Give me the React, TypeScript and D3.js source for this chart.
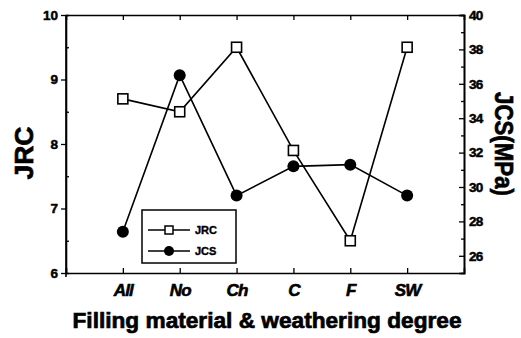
import React, { useEffect, useRef } from 'react';
import * as d3 from 'd3';

const categories = ['All', 'No', 'Ch', 'C', 'F', 'SW'];
const jrcValues = [8.7, 8.5, 9.5, 7.9, 6.5, 9.5];
const jcsValues = [27.4, 36.5, 29.5, 31.2, 31.3, 29.5];
const jrcTicks = [6, 7, 8, 9, 10];
const jcsTicks = [26, 28, 30, 32, 34, 36, 38, 40];

const App = () => {
    const ref = useRef<SVGSVGElement>(null);

    useEffect(() => {
        const width = 521;
        const height = 338;
        const left = 66;
        const right = 464;
        const top = 15;
        const bottom = 273;
        const font = '"Liberation Sans", Arial, sans-serif';

        const svg = d3.select(ref.current);
        svg.selectAll('*').remove();
        svg.attr('width', width).attr('height', height);

        const x = d3.scaleLinear().domain([-1, 6]).range([left, right]);
        const y = d3.scaleLinear().domain([6, 10]).range([bottom, top]);
        const y2 = d3.scaleLinear().domain([25, 40]).range([bottom, top]);

        // heavy scanned-looking text
        const heavy = (sel: any, size: number, stroke = 0.6) =>
            sel.attr('fill', '#000')
                .attr('stroke', '#000')
                .attr('stroke-width', stroke)
                .style('font-family', font)
                .style('font-weight', 'bold')
                .style('font-size', size + 'px');

        // frame axes
        const axisLeft = d3.axisLeft(y).tickValues(jrcTicks).tickSize(5).tickFormat(d3.format('d'));
        const gl = svg.append('g').attr('transform', `translate(${left},0)`).call(axisLeft);
        const axisLeftMinor = d3.axisRight(y).tickValues([6.5, 7.5, 8.5, 9.5]).tickSize(3).tickFormat(() => '');
        const glm = svg.append('g').attr('transform', `translate(${left},0)`).call(axisLeftMinor);

        const axisRight = d3.axisLeft(y2).tickValues(jcsTicks).tickSize(5).tickFormat(d3.format('d'));
        const gr = svg.append('g').attr('transform', `translate(${right},0)`).call(axisRight);
        gr.selectAll('text').attr('x', 5).attr('text-anchor', 'start');
        const axisRightMinor = d3.axisLeft(y2).tickValues([27, 29, 31, 33, 35, 37, 39]).tickSize(3).tickFormat(() => '');
        const grm = svg.append('g').attr('transform', `translate(${right},0)`).call(axisRightMinor);

        const axisBottom = d3.axisTop(x).tickValues(d3.range(categories.length)).tickSize(5)
            .tickFormat((d) => categories[d as number]);
        const gb = svg.append('g').attr('transform', `translate(0,${bottom})`).call(axisBottom);
        gb.selectAll('text').attr('y', 23).attr('dy', 0);
        const axisTop = d3.axisBottom(x).tickValues(d3.range(categories.length)).tickSize(5).tickFormat(() => '');
        const gt = svg.append('g').attr('transform', `translate(0,${top})`).call(axisTop);

        [gl, glm, gr, grm, gb, gt].forEach((g) => {
            g.select('.domain').attr('stroke', '#000').attr('stroke-width', 1.6);
            g.selectAll('.tick line').attr('stroke', '#000').attr('stroke-width', 1.3);
        });
        heavy(gl.selectAll('text'), 13.5, 0.5);
        heavy(gr.selectAll('text'), 13.5, 0.5).attr('letter-spacing', -0.8);
        heavy(gb.selectAll('text'), 17, 0.6).style('font-style', 'italic').attr('letter-spacing', -0.8);
        gl.select('.domain').attr('d', `M0,${top}V${bottom + 4}`);

        // lines
        const lineJcs = d3.line<number>().x((d, i) => x(i)).y((d) => y2(d));
        const lineJrc = d3.line<number>().x((d, i) => x(i)).y((d) => y(d));
        svg.append('path').datum(jcsValues).attr('d', lineJcs)
            .attr('fill', 'none').attr('stroke', '#000').attr('stroke-width', 1.6);
        svg.append('path').datum(jrcValues).attr('d', lineJrc)
            .attr('fill', 'none').attr('stroke', '#000').attr('stroke-width', 1.6);

        svg.append('g').selectAll('circle').data(jcsValues).join('circle')
            .attr('cx', (d, i) => x(i)).attr('cy', (d) => y2(d)).attr('r', 6).attr('fill', '#000');
        svg.append('g').selectAll('rect').data(jrcValues).join('rect')
            .attr('x', (d, i) => x(i) - 5).attr('y', (d) => y(d) - 5)
            .attr('width', 10).attr('height', 10)
            .attr('fill', '#fff').attr('stroke', '#000').attr('stroke-width', 1.6);

        // legend
        const lg = svg.append('g').attr('transform', 'translate(142,210)');
        lg.append('rect').attr('width', 94).attr('height', 53)
            .attr('fill', '#fff').attr('stroke', '#000').attr('stroke-width', 1.5);
        const rows = [{ name: 'JRC', y: 20 }, { name: 'JCS', y: 41 }];
        rows.forEach((r) => {
            lg.append('line').attr('x1', 6).attr('x2', 48).attr('y1', r.y).attr('y2', r.y)
                .attr('stroke', '#000').attr('stroke-width', 1.5);
            if (r.name === 'JRC') {
                lg.append('rect').attr('x', 23).attr('y', r.y - 4).attr('width', 8).attr('height', 8)
                    .attr('fill', '#fff').attr('stroke', '#000').attr('stroke-width', 1.5);
            } else {
                lg.append('circle').attr('cx', 27).attr('cy', r.y).attr('r', 5).attr('fill', '#000');
            }
            heavy(lg.append('text').attr('x', 53).attr('y', r.y + 4).text(r.name), 11, 0.4);
        });

        // axis titles
        heavy(svg.append('text')
            .attr('x', 267).attr('y', 328)
            .attr('text-anchor', 'middle')
            .attr('textLength', 389).attr('lengthAdjust', 'spacingAndGlyphs')
            .text('Filling material & weathering degree'), 22, 0.7);
        heavy(svg.append('text')
            .attr('transform', 'translate(33,153) rotate(-90)')
            .attr('text-anchor', 'middle')
            .attr('textLength', 53).attr('lengthAdjust', 'spacingAndGlyphs')
            .text('JRC'), 26, 0.7);
        heavy(svg.append('text')
            .attr('transform', 'translate(495,144) rotate(90)')
            .attr('text-anchor', 'middle')
            .attr('textLength', 104).attr('lengthAdjust', 'spacingAndGlyphs')
            .text('JCS(MPa)'), 26, 0.7);
    }, []);

    return (
        <div style={{ position: 'fixed', left: 0, top: 0 }}>
            <svg ref={ref} style={{ display: 'block', background: '#fff' }}></svg>
        </div>
    );
};

export default App;
